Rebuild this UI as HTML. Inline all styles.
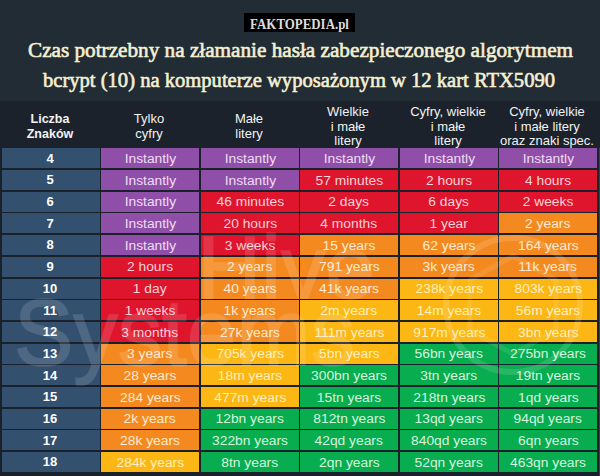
<!DOCTYPE html>
<html><head><meta charset="utf-8">
<style>
html,body{margin:0;padding:0;}
body{width:600px;height:476px;overflow:hidden;position:relative;background:#1b212b;font-family:"Liberation Sans",sans-serif;}
#top{position:absolute;left:0;top:0;width:600px;height:101px;background:#222c34;}
#hdr{position:absolute;left:0;top:101px;width:600px;height:47px;background:#1b222c;}
#logo{position:absolute;left:244px;top:13px;width:111px;height:19px;background:#000;color:#dcdcdc;font:bold 14.5px "Liberation Serif",serif;text-align:center;line-height:19px;white-space:nowrap}
#logo span{display:inline-block;transform:scaleX(0.89);position:relative;top:1.5px;margin-left:-20px;margin-right:-20px}
.tl{position:absolute;left:0;color:#f4f0d4;font:20px "Liberation Serif",serif;white-space:nowrap;transform-origin:0 0;-webkit-text-stroke:0.6px #f4f0d4;}
.h{position:absolute;width:98px;margin-left:-1px;text-align:center;color:#f2f2f2;font-size:13px;line-height:14.5px;}
.c span{display:inline-block;transform:scaleX(1.15);position:relative;top:0.6px}
.N span{transform:none;top:0.3px;left:-1px}
.c{position:absolute;height:20.0px;line-height:20.0px;text-align:center;font-size:12px;color:#fbf3f6;white-space:nowrap;}
.N{background:#33506f;color:#fff;font-weight:bold;font-size:13px;}
.wm{position:absolute;width:600px;height:476px;opacity:0.13;}
.wt{position:absolute;font-size:89px;line-height:100px;color:#fff;-webkit-text-stroke:1.5px #fff;white-space:nowrap;}
.P{background:#8f4fa8;color:#f0dcf4;}
.R{background:#df142d;color:#fad2d8;}
.O{background:#f48a1f;color:#feead2;}
.Y{background:#fdb714;color:#fff0bc;}
.G{background:#08ad50;color:#d6f4df;}
</style></head><body>
<div id="top"></div>
<div id="hdr"></div>
<div style="position:absolute;left:599px;top:148px;width:1px;height:328px;background:#38424e"></div>
<div id="logo"><span>FAKTOPEDIA.pl</span></div>
<div class="tl" id="t1" style="top:38.5px;left:27.8px;transform:scaleX(1.06)">Czas potrzebny na złamanie hasła zabezpieczonego algorytmem</div>
<div class="tl" id="t2" style="top:69px;left:43.3px;transform:scaleX(1.029)">bcrypt (10) na komputerze wyposażonym w 12 kart RTX5090</div>
<div class="h" style="left:2px;top:112px;font-weight:bold;font-size:12.5px">Liczba<br>Znaków</div>
<div class="h" style="left:101px;top:112px">Tylko<br>cyfry</div>
<div class="h" style="left:201px;top:112px">Małe<br>litery</div>
<div class="h" style="left:300px;top:105px">Wielkie<br>i małe<br>litery</div>
<div class="h" style="left:400px;top:105px">Cyfry, wielkie<br>i małe<br>litery</div>
<div class="h" style="left:499px;top:105px">Cyfry, wielkie<br>i małe litery<br>oraz znaki spec.</div>
<div class="c N" style="left:2px;top:148.40px;width:98px"><span>4</span></div>
<div class="c P" style="left:101px;top:148.40px;width:98px"><span>Instantly</span></div>
<div class="c P" style="left:201px;top:148.40px;width:98px"><span>Instantly</span></div>
<div class="c P" style="left:300px;top:148.40px;width:98px"><span>Instantly</span></div>
<div class="c P" style="left:400px;top:148.40px;width:98px"><span>Instantly</span></div>
<div class="c P" style="left:499px;top:148.40px;width:98px"><span>Instantly</span></div>
<div class="c N" style="left:2px;top:170.09px;width:98px"><span>5</span></div>
<div class="c P" style="left:101px;top:170.09px;width:98px"><span>Instantly</span></div>
<div class="c P" style="left:201px;top:170.09px;width:98px"><span>Instantly</span></div>
<div class="c R" style="left:300px;top:170.09px;width:98px"><span>57 minutes</span></div>
<div class="c R" style="left:400px;top:170.09px;width:98px"><span>2 hours</span></div>
<div class="c R" style="left:499px;top:170.09px;width:98px"><span>4 hours</span></div>
<div class="c N" style="left:2px;top:191.78px;width:98px"><span>6</span></div>
<div class="c P" style="left:101px;top:191.78px;width:98px"><span>Instantly</span></div>
<div class="c R" style="left:201px;top:191.78px;width:98px"><span>46 minutes</span></div>
<div class="c R" style="left:300px;top:191.78px;width:98px"><span>2 days</span></div>
<div class="c R" style="left:400px;top:191.78px;width:98px"><span>6 days</span></div>
<div class="c R" style="left:499px;top:191.78px;width:98px"><span>2 weeks</span></div>
<div class="c N" style="left:2px;top:213.47px;width:98px"><span>7</span></div>
<div class="c P" style="left:101px;top:213.47px;width:98px"><span>Instantly</span></div>
<div class="c R" style="left:201px;top:213.47px;width:98px"><span>20 hours</span></div>
<div class="c R" style="left:300px;top:213.47px;width:98px"><span>4 months</span></div>
<div class="c R" style="left:400px;top:213.47px;width:98px"><span>1 year</span></div>
<div class="c O" style="left:499px;top:213.47px;width:98px"><span>2 years</span></div>
<div class="c N" style="left:2px;top:235.16px;width:98px"><span>8</span></div>
<div class="c P" style="left:101px;top:235.16px;width:98px"><span>Instantly</span></div>
<div class="c R" style="left:201px;top:235.16px;width:98px"><span>3 weeks</span></div>
<div class="c O" style="left:300px;top:235.16px;width:98px"><span>15 years</span></div>
<div class="c O" style="left:400px;top:235.16px;width:98px"><span>62 years</span></div>
<div class="c O" style="left:499px;top:235.16px;width:98px"><span>164 years</span></div>
<div class="c N" style="left:2px;top:256.85px;width:98px"><span>9</span></div>
<div class="c R" style="left:101px;top:256.85px;width:98px"><span>2 hours</span></div>
<div class="c O" style="left:201px;top:256.85px;width:98px"><span>2 years</span></div>
<div class="c O" style="left:300px;top:256.85px;width:98px"><span>791 years</span></div>
<div class="c O" style="left:400px;top:256.85px;width:98px"><span>3k years</span></div>
<div class="c O" style="left:499px;top:256.85px;width:98px"><span>11k years</span></div>
<div class="c N" style="left:2px;top:278.54px;width:98px"><span>10</span></div>
<div class="c R" style="left:101px;top:278.54px;width:98px"><span>1 day</span></div>
<div class="c O" style="left:201px;top:278.54px;width:98px"><span>40 years</span></div>
<div class="c O" style="left:300px;top:278.54px;width:98px"><span>41k years</span></div>
<div class="c Y" style="left:400px;top:278.54px;width:98px"><span>238k years</span></div>
<div class="c Y" style="left:499px;top:278.54px;width:98px"><span>803k years</span></div>
<div class="c N" style="left:2px;top:300.23px;width:98px"><span>11</span></div>
<div class="c R" style="left:101px;top:300.23px;width:98px"><span>1 weeks</span></div>
<div class="c O" style="left:201px;top:300.23px;width:98px"><span>1k years</span></div>
<div class="c Y" style="left:300px;top:300.23px;width:98px"><span>2m years</span></div>
<div class="c Y" style="left:400px;top:300.23px;width:98px"><span>14m years</span></div>
<div class="c Y" style="left:499px;top:300.23px;width:98px"><span>56m years</span></div>
<div class="c N" style="left:2px;top:321.92px;width:98px"><span>12</span></div>
<div class="c R" style="left:101px;top:321.92px;width:98px"><span>3 months</span></div>
<div class="c O" style="left:201px;top:321.92px;width:98px"><span>27k years</span></div>
<div class="c Y" style="left:300px;top:321.92px;width:98px"><span>111m years</span></div>
<div class="c Y" style="left:400px;top:321.92px;width:98px"><span>917m years</span></div>
<div class="c Y" style="left:499px;top:321.92px;width:98px"><span>3bn years</span></div>
<div class="c N" style="left:2px;top:343.61px;width:98px"><span>13</span></div>
<div class="c O" style="left:101px;top:343.61px;width:98px"><span>3 years</span></div>
<div class="c Y" style="left:201px;top:343.61px;width:98px"><span>705k years</span></div>
<div class="c Y" style="left:300px;top:343.61px;width:98px"><span>5bn years</span></div>
<div class="c G" style="left:400px;top:343.61px;width:98px"><span>56bn years</span></div>
<div class="c G" style="left:499px;top:343.61px;width:98px"><span>275bn years</span></div>
<div class="c N" style="left:2px;top:365.30px;width:98px"><span>14</span></div>
<div class="c O" style="left:101px;top:365.30px;width:98px"><span>28 years</span></div>
<div class="c Y" style="left:201px;top:365.30px;width:98px"><span>18m years</span></div>
<div class="c G" style="left:300px;top:365.30px;width:98px"><span>300bn years</span></div>
<div class="c G" style="left:400px;top:365.30px;width:98px"><span>3tn years</span></div>
<div class="c G" style="left:499px;top:365.30px;width:98px"><span>19tn years</span></div>
<div class="c N" style="left:2px;top:386.99px;width:98px"><span>15</span></div>
<div class="c O" style="left:101px;top:386.99px;width:98px"><span>284 years</span></div>
<div class="c Y" style="left:201px;top:386.99px;width:98px"><span>477m years</span></div>
<div class="c G" style="left:300px;top:386.99px;width:98px"><span>15tn years</span></div>
<div class="c G" style="left:400px;top:386.99px;width:98px"><span>218tn years</span></div>
<div class="c G" style="left:499px;top:386.99px;width:98px"><span>1qd years</span></div>
<div class="c N" style="left:2px;top:408.68px;width:98px"><span>16</span></div>
<div class="c O" style="left:101px;top:408.68px;width:98px"><span>2k years</span></div>
<div class="c G" style="left:201px;top:408.68px;width:98px"><span>12bn years</span></div>
<div class="c G" style="left:300px;top:408.68px;width:98px"><span>812tn years</span></div>
<div class="c G" style="left:400px;top:408.68px;width:98px"><span>13qd years</span></div>
<div class="c G" style="left:499px;top:408.68px;width:98px"><span>94qd years</span></div>
<div class="c N" style="left:2px;top:430.37px;width:98px"><span>17</span></div>
<div class="c O" style="left:101px;top:430.37px;width:98px"><span>28k years</span></div>
<div class="c G" style="left:201px;top:430.37px;width:98px"><span>322bn years</span></div>
<div class="c G" style="left:300px;top:430.37px;width:98px"><span>42qd years</span></div>
<div class="c G" style="left:400px;top:430.37px;width:98px"><span>840qd years</span></div>
<div class="c G" style="left:499px;top:430.37px;width:98px"><span>6qn years</span></div>
<div class="c N" style="left:2px;top:452.06px;width:98px"><span>18</span></div>
<div class="c Y" style="left:101px;top:452.06px;width:98px"><span>284k years</span></div>
<div class="c G" style="left:201px;top:452.06px;width:98px"><span>8tn years</span></div>
<div class="c G" style="left:300px;top:452.06px;width:98px"><span>2qn years</span></div>
<div class="c G" style="left:400px;top:452.06px;width:98px"><span>52qn years</span></div>
<div class="c G" style="left:499px;top:452.06px;width:98px"><span>463qn years</span></div>
<div class="wm" style="left:0;top:0;">
<svg width="600" height="476" style="position:absolute;left:0;top:0">
<circle cx="513" cy="305" r="67" fill="none" stroke="#fff" stroke-width="6"/>
<polygon points="513,256 556,280 556,330 513,354 470,330 470,280" fill="none" stroke="#fff" stroke-width="5" stroke-linejoin="round" opacity="0.7"/>
</svg>
<div class="wt" id="w1" style="left:197px;top:217px">Hive</div>
<div class="wt" id="w2" style="left:14px;top:279px;transform:scaleY(1.06);transform-origin:0 0">Systems</div>
</div>
</body></html>
